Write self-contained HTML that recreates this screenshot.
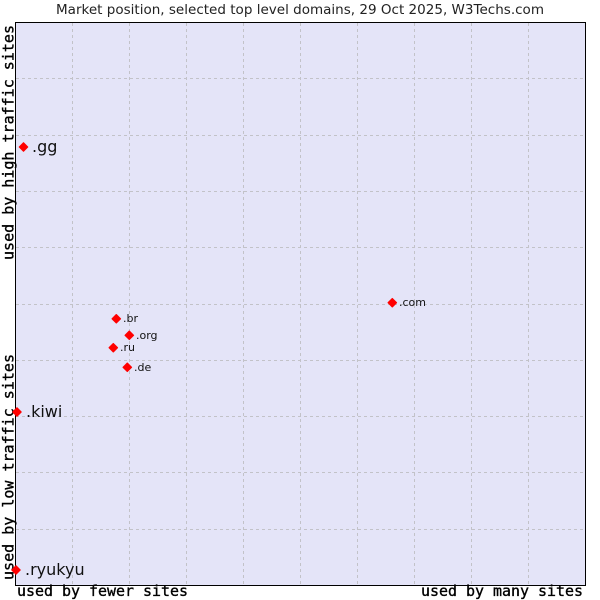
<!DOCTYPE html>
<html>
<head>
<meta charset="utf-8">
<style>
html,body{margin:0;padding:0;background:#fff;}
svg{display:block;}
</style>
</head>
<body>
<svg width="600" height="600" viewBox="0 0 600 600" xmlns="http://www.w3.org/2000/svg">
  <rect x="0" y="0" width="600" height="600" fill="#ffffff"/>
  <text x="300" y="14" font-family="DejaVu Sans, Liberation Sans, sans-serif" font-size="13" fill="#222" text-anchor="middle" textLength="488" lengthAdjust="spacingAndGlyphs">Market position, selected top level domains, 29 Oct 2025, W3Techs.com</text>
  <rect x="15.5" y="22.5" width="570" height="563" fill="#e4e4f8"/>
  <g stroke="#c2c2c8" stroke-width="1" stroke-dasharray="3,3">
    <line x1="72.5" y1="23" x2="72.5" y2="585"/>
    <line x1="129.5" y1="23" x2="129.5" y2="585"/>
    <line x1="186.5" y1="23" x2="186.5" y2="585"/>
    <line x1="243.5" y1="23" x2="243.5" y2="585"/>
    <line x1="300.5" y1="23" x2="300.5" y2="585"/>
    <line x1="357.5" y1="23" x2="357.5" y2="585"/>
    <line x1="414.5" y1="23" x2="414.5" y2="585"/>
    <line x1="471.5" y1="23" x2="471.5" y2="585"/>
    <line x1="528.5" y1="23" x2="528.5" y2="585"/>
    <line x1="16" y1="78.5" x2="585" y2="78.5"/>
    <line x1="16" y1="135.5" x2="585" y2="135.5"/>
    <line x1="16" y1="191.5" x2="585" y2="191.5"/>
    <line x1="16" y1="247.5" x2="585" y2="247.5"/>
    <line x1="16" y1="304.5" x2="585" y2="304.5"/>
    <line x1="16" y1="360.5" x2="585" y2="360.5"/>
    <line x1="16" y1="416.5" x2="585" y2="416.5"/>
    <line x1="16" y1="472.5" x2="585" y2="472.5"/>
    <line x1="16" y1="529.5" x2="585" y2="529.5"/>
  </g>
  <rect x="15.5" y="22.5" width="570" height="563" fill="none" stroke="#000" stroke-width="1"/>

  <!-- axis labels -->
  <g font-family="DejaVu Sans Mono, Liberation Mono, monospace" font-size="15" fill="#000" stroke="#000" stroke-width="0.35">
  <text x="17" y="596" textLength="171" lengthAdjust="spacingAndGlyphs">used by fewer sites</text>
  <text x="583" y="596" text-anchor="end" textLength="162" lengthAdjust="spacingAndGlyphs">used by many sites</text>
  <text transform="translate(13.5,260) rotate(-90)" x="0" y="0" textLength="235" lengthAdjust="spacingAndGlyphs">used by high traffic sites</text>
  <text transform="translate(13.5,580) rotate(-90)" x="0" y="0" textLength="226" lengthAdjust="spacingAndGlyphs">used by low traffic sites</text>
  </g>

  <!-- points -->
  <g fill="#ff0000" stroke="#ff0000" stroke-width="1.2" stroke-linejoin="round">
    <polygon points="23.5,142.8 27.7,147 23.5,151.2 19.3,147"/>
    <polygon points="17,407.8 21.2,412 17,416.2 12.8,412"/>
    <polygon points="16,565.8 20.2,570 16,574.2 11.8,570"/>
    <polygon points="116.3,314.6 120.5,318.8 116.3,323 112.1,318.8"/>
    <polygon points="129.3,331.1 133.5,335.3 129.3,339.5 125.1,335.3"/>
    <polygon points="113.3,343.5 117.5,347.7 113.3,351.9 109.1,347.7"/>
    <polygon points="127.3,363.1 131.5,367.3 127.3,371.5 123.1,367.3"/>
    <polygon points="392.3,298.5 396.5,302.7 392.3,306.9 388.1,302.7"/>
  </g>
  <g font-family="DejaVu Sans, Liberation Sans, sans-serif" fill="#111">
    <text x="32" y="152" font-size="16">.gg</text>
    <text x="26" y="417" font-size="16">.kiwi</text>
    <text x="25" y="575" font-size="16">.ryukyu</text>
    <text x="123" y="322" font-size="11">.br</text>
    <text x="136" y="339" font-size="11">.org</text>
    <text x="120" y="351" font-size="11">.ru</text>
    <text x="134" y="371" font-size="11">.de</text>
    <text x="399" y="306" font-size="11">.com</text>
  </g>
</svg>
</body>
</html>
